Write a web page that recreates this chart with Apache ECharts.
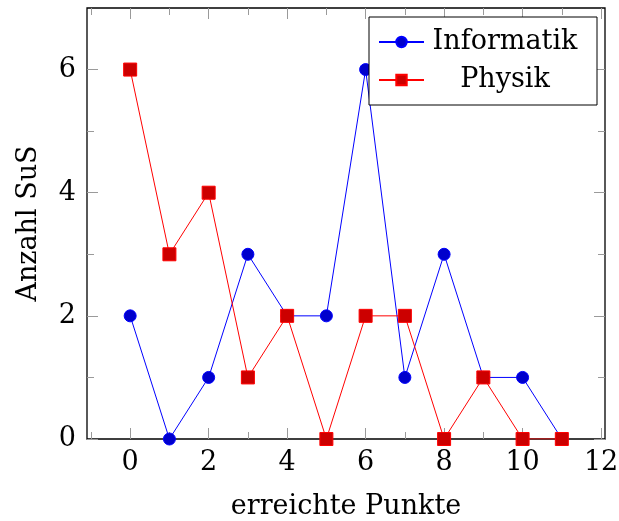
<!DOCTYPE html>
<html>
<head>
<meta charset="utf-8">
<script src="https://cdn.jsdelivr.net/npm/echarts@6/dist/echarts.min.js"></script>
<style>html,body{margin:0;padding:0;background:#fff}#c{width:619px;height:521px}</style>
</head>
<body>
<div id="c"></div>
<script>
const points = [0, 1, 2, 3, 4, 5, 6, 7, 8, 9, 10, 11];
const informatik = [2, 0, 1, 3, 2, 2, 6, 1, 3, 1, 1, 0];
const physik = [6, 3, 4, 1, 2, 0, 2, 2, 0, 1, 0, 0];
const xMajorTicks = [0, 2, 4, 6, 8, 10, 12];
const xMinorTicks = [-1, 1, 3, 5, 7, 9, 11];
const yMajorTicks = [0, 2, 4, 6];
const yMinorTicks = [1, 3, 5];

const FONT = '"DejaVu Serif", "Liberation Serif", serif';
const FS = 27;
const TICKC = '#9a9a9a';

function xAx(pos, ticks, len, labels) {
  return {
    type: 'value', position: pos, min: -1.1, max: 12.1, gridIndex: 0,
    axisLine: {show: false, onZero: false},
    splitLine: {show: false},
    axisTick: {show: true, inside: true, length: len, customValues: ticks, lineStyle: {color: TICKC, width: 1}},
    axisLabel: labels ? {show: true, customValues: labels, margin: 10, fontFamily: FONT, fontSize: FS, color: '#000'} : {show: false}
  };
}
function yAx(pos, ticks, len, labels) {
  return {
    type: 'value', position: pos, min: 0, max: 7, gridIndex: 0,
    axisLine: {show: false, onZero: false},
    splitLine: {show: false},
    axisTick: {show: true, inside: true, length: len, customValues: ticks, lineStyle: {color: TICKC, width: 1}},
    axisLabel: labels ? {show: true, customValues: labels, margin: 11, fontFamily: FONT, fontSize: FS, color: '#000'} : {show: false}
  };
}

const xMain = xAx('bottom', xMajorTicks, 11, xMajorTicks);
xMain.name = 'erreichte Punkte';
xMain.nameLocation = 'middle';
xMain.nameGap = 54;
xMain.nameTextStyle = {fontFamily: FONT, fontSize: FS, color: '#000'};
const yMain = yAx('left', yMajorTicks, 11, yMajorTicks);
yMain.name = 'Anzahl SuS';
yMain.nameLocation = 'middle';
yMain.nameGap = 45;
yMain.nameTextStyle = {fontFamily: FONT, fontSize: FS, color: '#000'};

const chart = echarts.init(document.getElementById('c'), null, {renderer: 'canvas'});
chart.setOption({
  animation: false,
  backgroundColor: '#fff',
  grid: {left: 87, top: 8, right: 14, bottom: 82, show: true, borderColor: '#000', borderWidth: 1.3, backgroundColor: 'transparent', containLabel: false, outerBoundsMode: 'none'},
  xAxis: [
    xMain,
    xAx('bottom', xMinorTicks, 7, null),
    xAx('top', xMajorTicks, 11, null),
    xAx('top', xMinorTicks, 7, null)
  ],
  yAxis: [
    yMain,
    yAx('left', yMinorTicks, 7, null),
    yAx('right', yMajorTicks, 11, null),
    yAx('right', yMinorTicks, 7, null)
  ],
  legend: {
    orient: 'vertical', left: 369, top: 17,
    padding: [10, 16, 10, 9], itemGap: 8,
    itemWidth: 45, itemHeight: 13,
    borderColor: '#000', borderWidth: 1, backgroundColor: '#fff',
    formatter: '{a|{name}}',
    textStyle: {fontFamily: FONT, fontSize: FS, color: '#000', lineHeight: 30,
      rich: {a: {width: 152, align: 'center', fontFamily: FONT, fontSize: FS, lineHeight: 30}}},
    data: ['Informatik', 'Physik']
  },
  series: [
    {
      name: 'Informatik', type: 'line', xAxisIndex: 0, yAxisIndex: 0,
      data: points.map((p, i) => [p, informatik[i]]),
      symbol: 'circle', symbolSize: 12,
      lineStyle: {color: '#0000ff', width: 1},
      itemStyle: {color: '#0000cc', borderColor: '#0000ff', borderWidth: 1},
      z: 3
    },
    {
      name: 'Physik', type: 'line', xAxisIndex: 0, yAxisIndex: 0,
      data: points.map((p, i) => [p, physik[i]]),
      symbol: 'rect', symbolSize: 13,
      lineStyle: {color: '#ff0000', width: 1},
      itemStyle: {color: '#cc0000', borderColor: '#ff0000', borderWidth: 1},
      z: 4
    }
  ]
});
</script>
</body>
</html>
